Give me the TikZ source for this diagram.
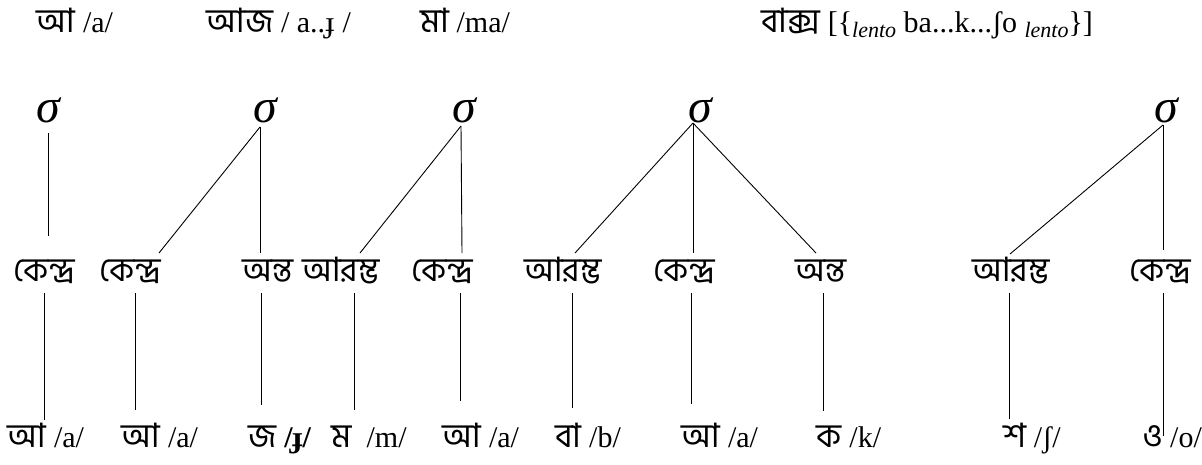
\documentclass[tikz,border=0pt]{standalone}
\usepackage{fontspec}
\setmainfont{Liberation Serif}
\newfontfamily\bn[Script=Bengali,Scale=1.12]{Hind Siliguri}
\newcommand{\lnt}{\raisebox{-5pt}{\fontsize{22}{22}\selectfont\itshape lento}}
\begin{document}
\begin{tikzpicture}[x=1pt,y=-1pt,
  lab/.style={inner sep=0pt, anchor=base, font=\fontsize{30}{36}\selectfont},
  sig/.style={inner sep=0pt, anchor=base, font=\fontsize{48}{52}\selectfont\itshape},
  link/.style={line width=0.9pt, draw=black}]
\useasboundingbox (0,0) rectangle (1202,464);
% top line
\node[lab] (t1) at (75,32) {{\bn আ} /a/};
\node[lab] (t2) at (279,32) {{\bn আজ} / a..ɟ /};
\node[lab] (t3) at (465,32) {{\bn মা} /ma/};
\node[lab] (t4) at (927,32) {{\bn বাক্স} [\{\lnt{} ba...k...ʃo \lnt\}]};
% sigmas
\node[sig] (s1) at (48,122) {σ};
\node[sig] (s2) at (265,122) {σ};
\node[sig] (s3) at (464,122) {σ};
\node[sig] (s4) at (700,122) {σ};
\node[sig] (s5) at (1166,122) {σ};
\coordinate (a1) at (48,133);
\coordinate (a2) at (260,127);
\coordinate (a3) at (461,126);
\coordinate (a4) at (693,123);
\coordinate (a5) at (1163,125);
% middle labels
\node[lab] (m1) at (44,281) {\bn কেন্দ্র};
\node[lab] (m2) at (130,281) {\bn কেন্দ্র};
\node[lab] (m3) at (268,281) {\bn অন্ত};
\node[lab] (m4) at (341,281) {\bn আরম্ভ};
\node[lab] (m5) at (442,281) {\bn কেন্দ্র};
\node[lab] (m6) at (563,281) {\bn আরম্ভ};
\node[lab] (m7) at (684,281) {\bn কেন্দ্র};
\node[lab] (m8) at (821,281) {\bn অন্ত};
\node[lab] (m9) at (1011,281) {\bn আরম্ভ};
\node[lab] (m10) at (1160,281) {\bn কেন্দ্র};
% ends of upper links
\coordinate (e1) at (48,236);
\coordinate (e2) at (159,253);
\coordinate (e3) at (260,253);
\coordinate (e4) at (360,253);
\coordinate (e5) at (462,253);
\coordinate (e6) at (575,253);
\coordinate (e7) at (693,253);
\coordinate (e8) at (816,253);
\coordinate (e9) at (1010,254);
\coordinate (e10) at (1163,250);
\draw[link] (a1) -- (e1);
\draw[link] (a2) -- (e2);
\draw[link] (a2) -- (e3);
\draw[link] (a3) -- (e4);
\draw[link] (a3) -- (e5);
\draw[link] (a4) -- (e6);
\draw[link] (a4) -- (e7);
\draw[link] (a4) -- (e8);
\draw[link] (a5) -- (e9);
\draw[link] (a5) -- (e10);
% bottom labels
\node[lab] (b1) at (46,447) {{\bn আ} /a/};
\node[lab] (b2) at (160,447) {{\bn আ} /a/};
\node[lab] (b3) at (280,447) {{\bn জ} {\bfseries /ɟ/}};
\node[lab] (b4) at (369,447) {{\bn ম}\ \ /m/};
\node[lab] (b5) at (481,447) {{\bn আ} /a/};
\node[lab] (b6) at (588,447) {{\bn বা} /b/};
\node[lab] (b7) at (720,447) {{\bn আ} /a/};
\node[lab] (b8) at (849,447) {{\bn ক} /k/};
\node[lab] (b9) at (1032,447) {{\bn শ} /ʃ/};
\node[lab] (b10) at (1172,447) {{\bn ও} /o/};
% lower links
\coordinate (u1) at (44,293);  \coordinate (v1) at (44,420);
\coordinate (u2) at (135,293); \coordinate (v2) at (135,410);
\coordinate (u3) at (261,293); \coordinate (v3) at (261,405);
\coordinate (u4) at (354,293); \coordinate (v4) at (354,410);
\coordinate (u5) at (460,293); \coordinate (v5) at (460,401);
\coordinate (u6) at (572,293); \coordinate (v6) at (572,408);
\coordinate (u7) at (691,293); \coordinate (v7) at (691,404);
\coordinate (u8) at (823,293); \coordinate (v8) at (823,411);
\coordinate (u9) at (1009,293); \coordinate (v9) at (1009,419);
\coordinate (u10) at (1163,293); \coordinate (v10) at (1163,436);
\foreach \i in {1,...,10} { \draw[link] (u\i) -- (v\i); }
\end{tikzpicture}
\end{document}
